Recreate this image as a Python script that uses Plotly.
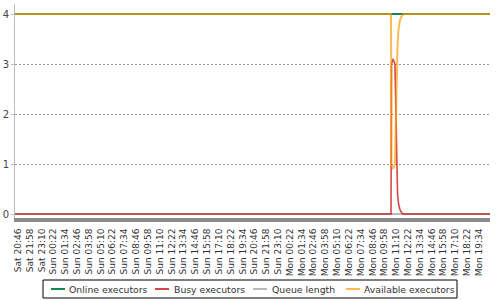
import plotly.graph_objects as go

# time axis in minutes since Sat 20:46
tick_labels = [
    "Sat 20:46", "Sat 21:58", "Sat 23:10", "Sun 00:22", "Sun 01:34", "Sun 02:46", "Sun 03:58",
    "Sun 05:10", "Sun 06:22", "Sun 07:34", "Sun 08:46", "Sun 09:58", "Sun 11:10", "Sun 12:22",
    "Sun 13:34", "Sun 14:46", "Sun 15:58", "Sun 17:10", "Sun 18:22", "Sun 19:34", "Sun 20:46",
    "Sun 21:58", "Sun 23:10", "Mon 00:22", "Mon 01:34", "Mon 02:46", "Mon 03:58", "Mon 05:10",
    "Mon 06:22", "Mon 07:34", "Mon 08:46", "Mon 09:58", "Mon 11:10", "Mon 12:22", "Mon 13:34",
    "Mon 14:46", "Mon 15:58", "Mon 17:10", "Mon 18:22", "Mon 19:34",
]
tick_step_minutes = 72

time_min = [-18, 2272, 2275, 2284, 2296, 2302, 2307, 2312, 2318, 2327, 2336, 2345, 2357, 2875]
online = [4, 4, 4, 4, 4, 4, 4, 4, 4, 4, 4, 4, 4, 4]
busy = [0, 0, 3.0, 3.1, 3.0, 2.0, 1.0, 0.4, 0.2, 0.08, 0.03, 0.0, 0, 0]
queue = [0, 0, 0, 0, 0, 0, 0, 0, 0, 0, 0, 0, 0, 0]
available = [4, 4, 1.0, 0.9, 1.0, 1.9, 2.9, 3.4, 3.7, 3.88, 3.95, 3.99, 4, 4]

series_names = ["Online executors", "Busy executors", "Queue length", "Available executors"]
c_online = "rgb(20,135,85)"
c_busy = "rgba(200,0,0,0.72)"
c_queue = "rgb(185,185,185)"
c_avail = "rgba(255,155,0,0.68)"

W, H = 500, 300
ML, MR, MT, MB = 15, 10, 4, 82
PW, PH = W - ML - MR, H - MT - MB


def px_x(px):
    return (px - ML) / PW


def px_y(py):
    return (H - MB - py) / PH


font = "DejaVu Sans"
fig = go.Figure()
fig.add_trace(go.Scatter(x=time_min, y=queue, mode="lines", name=series_names[2],
                         line=dict(color=c_queue, width=2)))
fig.add_trace(go.Scatter(x=time_min, y=online, mode="lines", name=series_names[0],
                         line=dict(color=c_online, width=2)))
fig.add_trace(go.Scatter(x=time_min, y=busy, mode="lines", name=series_names[1],
                         line=dict(color=c_busy, width=1.6)))
fig.add_trace(go.Scatter(x=time_min, y=available, mode="lines", name=series_names[3],
                         line=dict(color=c_avail, width=2)))

tickvals = [i * tick_step_minutes for i in range(len(tick_labels))]

# legend box drawn like the reference (compact swatches)
legend_box = (43, 280, 457, 298)
legend_swatch_x = [51, 155, 253, 346]
legend_text_x = [67, 172, 270, 362]
legend_colors = [c_online, c_busy, c_queue, c_avail]
legend_cy = (legend_box[1] + legend_box[3]) / 2

shapes = [dict(type="rect", xref="paper", yref="paper",
               x0=px_x(legend_box[0]), x1=px_x(legend_box[2]),
               y0=px_y(legend_box[1]), y1=px_y(legend_box[3]),
               line=dict(color="black", width=1), fillcolor="white", layer="above")]
annotations = []
for name, col, sx, tx in zip(series_names, legend_colors, legend_swatch_x, legend_text_x):
    shapes.append(dict(type="line", xref="paper", yref="paper",
                       x0=px_x(sx), x1=px_x(sx + 14), y0=px_y(legend_cy), y1=px_y(legend_cy),
                       line=dict(color=col, width=2), layer="above"))
    annotations.append(dict(text=name, xref="paper", yref="paper", x=px_x(tx), y=px_y(legend_cy),
                            xanchor="left", yanchor="middle", showarrow=False,
                            font=dict(size=9.3, color="#333", family=font)))

fig.update_layout(
    width=W, height=H,
    margin=dict(l=ML, r=MR, t=MT, b=MB, autoexpand=False),
    paper_bgcolor="white", plot_bgcolor="white",
    font=dict(family=font, color="#444", size=10),
    showlegend=False,
    shapes=shapes, annotations=annotations,
    xaxis=dict(range=[-18.3, 2875], tickvals=tickvals, ticktext=tick_labels, tickangle=-90,
               tickfont=dict(size=9, color="#333"), showgrid=False, zeroline=False,
               ticklabelstandoff=3,
               showline=True, linewidth=4, linecolor="rgb(140,140,140)", ticks="", automargin=False),
    yaxis=dict(range=[-0.08, 4.2], tickvals=[0, 1, 2, 3, 4], tickfont=dict(size=10, color="#444"),
               showgrid=True, gridcolor="rgb(150,150,150)", griddash="2px,2px", gridwidth=1,
               zeroline=False, showline=True, linecolor="rgb(190,190,190)", linewidth=1,
               ticks="outside", ticklen=3, tickcolor="rgb(190,190,190)", automargin=False),
)
fig.write_html("out.html")
